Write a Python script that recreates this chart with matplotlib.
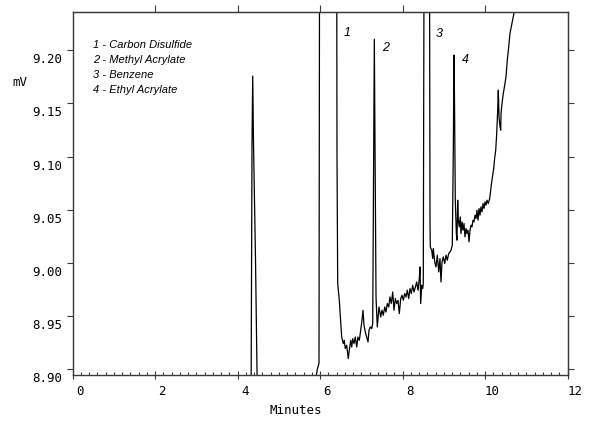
import matplotlib
matplotlib.use('Agg')
import matplotlib.pyplot as plt
import matplotlib.transforms as mtransforms

# detector trace, minutes vs mV (values outside the window are clipped by the axes)
minutes = [
    0.000, 4.300,
    4.322, 4.347, 4.364, 4.383, 4.432, 4.485,
    5.850, 5.898, 5.930, 5.971, 5.988, 6.150, 6.400,
    6.407, 6.424, 6.463, 6.504, 6.521, 6.560, 6.584, 6.608, 6.642, 6.681,
    6.705, 6.739, 6.764, 6.788, 6.819, 6.851, 6.885, 6.916, 6.948, 6.982,
    7.013, 7.038, 7.062, 7.093, 7.127, 7.159, 7.183, 7.215, 7.248, 7.273,
    7.297, 7.312, 7.329, 7.353, 7.384,
    7.425, 7.467, 7.498, 7.530, 7.564, 7.595, 7.627, 7.661, 7.692, 7.724,
    7.758, 7.789, 7.821, 7.855, 7.886, 7.918, 7.952, 7.983, 8.015, 8.048,
    8.080, 8.112, 8.145, 8.177, 8.208, 8.242, 8.274, 8.305, 8.339, 8.371,
    8.402, 8.419, 8.436, 8.461, 8.485, 8.499,
    8.524, 8.590, 8.645,
    8.662, 8.669, 8.703, 8.727, 8.742, 8.776, 8.807, 8.839, 8.873, 8.904,
    8.928, 8.953, 8.984, 9.018, 9.050, 9.081, 9.115, 9.147, 9.171, 9.202,
    9.227, 9.244, 9.256, 9.275, 9.300,
    9.316, 9.333, 9.348, 9.372, 9.396, 9.413, 9.438, 9.462, 9.486, 9.510,
    9.535, 9.559, 9.583, 9.608, 9.632, 9.656, 9.680, 9.704, 9.729, 9.753,
    9.777, 9.801, 9.826, 9.850, 9.874, 9.898, 9.923, 9.947, 9.971, 9.995,
    10.020, 10.044, 10.075, 10.109, 10.133, 10.158, 10.182, 10.206, 10.230,
    10.255, 10.279, 10.303, 10.318, 10.335, 10.359, 10.376, 10.384, 10.408,
    10.439, 10.480, 10.504, 10.536, 10.570, 10.601, 10.650, 10.705, 10.900,
]
signal = [
    8.800, 8.800,
    8.850, 9.1126, 9.1756, 9.1126, 9.0026, 8.850,
    8.800, 8.8927, 8.9002, 8.9058, 9.400, 9.800, 9.300,
    9.1032, 8.9810, 8.9650, 8.9399, 8.9305, 8.9243, 8.9274, 8.9196, 8.9227, 8.9102,
    8.9180, 8.9274, 8.9211, 8.9290, 8.9243, 8.9305, 8.9211, 8.9305, 8.9274, 8.9368,
    8.9462, 8.9556, 8.9415, 8.9352, 8.9305, 8.9258, 8.9368, 8.9399, 8.9384, 8.9431,
    9.1060, 9.2101, 9.1060, 8.9681, 8.9399,
    8.9587, 8.9493, 8.9556, 8.9509, 8.9587, 8.9540, 8.9619, 8.9587, 8.9681, 8.9619,
    8.9728, 8.9556, 8.9666, 8.9619, 8.9650, 8.9525, 8.9666, 8.9697, 8.9650, 8.9713,
    8.9681, 8.9744, 8.9666, 8.9760, 8.9713, 8.9791, 8.9728, 8.9770, 8.9822, 8.9744,
    8.9854, 8.9963, 8.9619, 8.9791, 8.9760, 8.9807,
    9.400, 9.800, 9.400,
    9.0374, 9.0151, 9.0120, 9.0042, 9.0136, 9.0010, 8.9963, 9.0073, 8.9916, 9.0042,
    8.9822, 9.0010, 9.0057, 8.9995, 9.0073, 9.0026, 9.0089, 9.0104, 9.0120, 9.0167,
    9.1060, 9.1953, 9.1530, 9.0590, 9.0280,
    9.0214, 9.0590, 9.0402, 9.0339, 9.0433, 9.0277, 9.0386, 9.0308, 9.0371, 9.0245,
    9.0324, 9.0277, 9.0308, 9.0198, 9.0308, 9.0355, 9.0339, 9.0402, 9.0386, 9.0449,
    9.0418, 9.0496, 9.0402, 9.0512, 9.0449, 9.0527, 9.0480, 9.0559, 9.0512, 9.0574,
    9.0543, 9.0590, 9.0559, 9.0606, 9.0684, 9.0762, 9.0825, 9.0888, 9.0985,
    9.1060, 9.1217, 9.1436, 9.1624, 9.1373, 9.1279, 9.1248, 9.1405, 9.1499,
    9.1593, 9.1687, 9.1749, 9.1906, 9.2031, 9.2157, 9.2251, 9.2360, 9.2900,
]

peak_numbers = ['1', '2', '3', '4']
peak_label_minutes = [6.657, 7.595, 8.887, 9.527]
peak_label_mv = [9.2157, 9.2016, 9.2148, 9.1906]

compounds = ['1 - Carbon Disulfide', '2 - Methyl Acrylate',
             '3 - Benzene', '4 - Ethyl Acrylate']

x_ticks = [0, 2, 4, 6, 8, 10, 12]
y_ticks = [8.90, 8.95, 9.00, 9.05, 9.10, 9.15, 9.20]
y_tick_labels = ['8.90', '8.95', '9.00', '9.05', '9.10', '9.15', '9.20']

mono = 'DejaVu Sans Mono'
italic_fonts = ['Liberation Sans Narrow', 'Liberation Sans', 'DejaVu Sans']
frame_color = '#3a3a3a'

fig = plt.figure(figsize=(5.96, 4.26), dpi=100)
ax = fig.add_axes([72.7 / 596, 1 - 375 / 426, 495 / 596, 363.3 / 426])

ax.plot(minutes, signal, color='black', lw=0.9)
ax.set_xlim(0, 12)
ax.set_ylim(8.8948, 9.236)

for side in ax.spines.values():
    side.set_color(frame_color)
    side.set_linewidth(1.0)

# bottom axis: labelled majors poking out, small minors every 0.2 min
ax.set_xticks(x_ticks)
ax.set_xticklabels([str(t) for t in x_ticks], fontfamily=mono, fontsize=9)
ax.set_xticks([i * 0.2 for i in range(61)], minor=True)
ax.tick_params(axis='x', which='major', direction='inout', length=6,
               width=0.8, color=frame_color, pad=4)
ax.tick_params(axis='x', which='minor', direction='in', length=2.2,
               width=0.8, color=frame_color)

ax.set_yticks(y_ticks)
ax.set_yticklabels(y_tick_labels, fontfamily=mono, fontsize=9)
ax.tick_params(axis='y', which='major', direction='out', length=4.3,
               width=0.8, color=frame_color, pad=3.5)

# the old plotter prints labels a bit off their ticks
dx = mtransforms.ScaledTranslation(0.07, 0, fig.dpi_scale_trans)
for lab in ax.get_xticklabels():
    lab.set_transform(lab.get_transform() + dx)
dy = mtransforms.ScaledTranslation(0, -0.08, fig.dpi_scale_trans)
for lab in ax.get_yticklabels():
    lab.set_transform(lab.get_transform() + dy)

top = ax.secondary_xaxis('top')
top.set_xticks([2, 4, 6, 8, 10])
top.tick_params(direction='out', length=4.8, width=0.8, color=frame_color,
                labeltop=False)
top.spines['top'].set_color(frame_color)

right = ax.secondary_yaxis('right')
right.set_yticks(y_ticks)
right.tick_params(direction='out', length=4.1, width=0.8, color=frame_color,
                  labelright=False)
right.spines['right'].set_color(frame_color)

for num, t, v in zip(peak_numbers, peak_label_minutes, peak_label_mv):
    ax.text(t, v, num, ha='center', va='center', style='italic',
            family=italic_fonts, fontsize=9)

for i, name in enumerate(compounds):
    fig.text(93 / 596, 1 - (45 + 15 * i) / 426, name, ha='left', va='center',
             style='italic', family=italic_fonts, fontsize=8)

fig.text(20 / 596, 1 - 83 / 426, 'mV', ha='center', va='center',
         family=mono, fontsize=9)
fig.text(296 / 596, 1 - 410 / 426, 'Minutes', ha='center', va='center',
         family=mono, fontsize=9)

fig.savefig('out.png', dpi=100)
